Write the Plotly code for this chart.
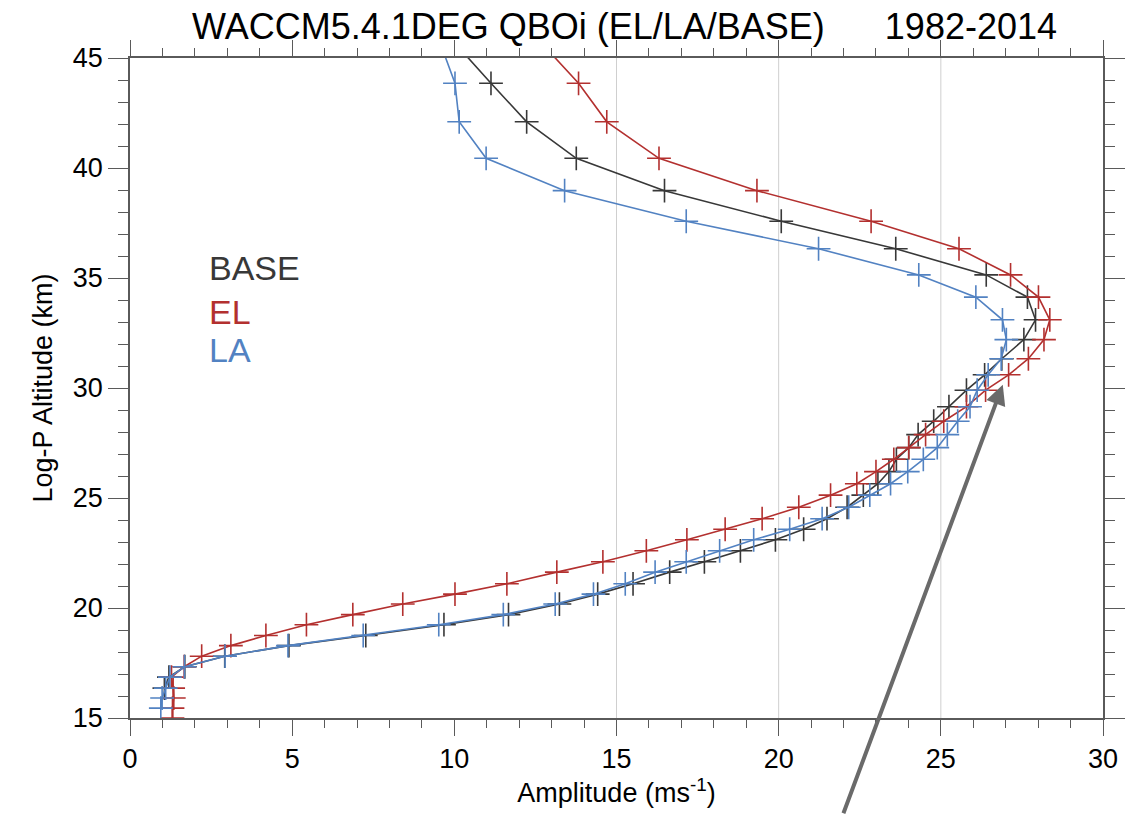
import plotly.graph_objects as go

# Log-P altitude levels (km)
levels = [45.74, 43.85, 42.10, 40.44, 38.97, 37.58, 36.33, 35.14, 34.13, 33.10,
          32.20, 31.33, 30.60, 29.90, 29.15, 28.49, 27.88, 27.29, 26.76, 26.20,
          25.65, 25.13, 24.58, 24.06, 23.58, 23.10, 22.60, 22.10, 21.63, 21.10,
          20.63, 20.18, 19.70, 19.24, 18.75, 18.29, 17.81, 17.33, 16.86, 16.36,
          15.91, 15.45, 15.00]

base_amp = [9.98, 11.13, 12.23, 13.76, 16.48, 20.08, 23.61, 26.40, 27.67, 27.92,
            27.56, 26.88, 26.35, 25.79, 25.25, 24.78, 24.30, 24.01, 23.63, 23.40,
            23.06, 22.61, 22.11, 21.49, 20.77, 19.90, 18.82, 17.71, 16.64, 15.51,
            14.42, 13.24, 11.67, 9.68, 7.27, 4.90, 2.92, 1.69, 1.20, 1.06]

el_amp = [12.65, 13.83, 14.70, 16.31, 19.33, 22.85, 25.56, 27.15, 28.01, 28.36,
          28.18, 27.70, 27.09, 26.38, 25.79, 25.09, 24.53, 24.01, 23.55, 23.00,
          22.41, 21.60, 20.62, 19.49, 18.35, 17.17, 15.92, 14.58, 13.16, 11.62,
          10.02, 8.41, 6.87, 5.44, 4.19, 3.11, 2.21, 1.67, 1.28, 1.33,
          1.35, 1.31, 1.31]

la_amp = [9.55, 10.02, 10.15, 10.98, 13.40, 17.15, 21.23, 24.32, 26.08, 26.90,
          27.02, 26.86, 26.46, 26.12, 25.90, 25.52, 25.20, 24.89, 24.46, 23.98,
          23.45, 22.81, 22.16, 21.34, 20.34, 19.23, 18.18, 17.15, 16.19, 15.27,
          14.29, 13.11, 11.51, 9.52, 7.19, 4.87, 2.93, 1.68, 1.23, 1.10,
          0.99, 0.95]

series_names = ["BASE", "EL", "LA"]
series_colors = ["#383838", "#b3302f", "#5282c2"]
grid_x = [15, 20, 25]

arrow_head = (26.91, 30.15)
arrow_tail = (21.98, 10.6)

legend_x = 2.37
legend_y = [35.47, 33.47, 31.74]

title_main = "WACCM5.4.1DEG QBOi (EL/LA/BASE)"
title_years = "1982-2014"

FONT = "Liberation Sans, Arial, Helvetica, sans-serif"

fig = go.Figure()

data = [base_amp, el_amp, la_amp]
for name, amp, col in zip(series_names, data, series_colors):
    fig.add_trace(go.Scatter(
        x=amp, y=levels[:len(amp)], mode="lines+markers", name=name,
        line=dict(color=col, width=1.6),
        marker=dict(symbol="cross-thin-open", size=17,
                    line=dict(color=col, width=1.6), color=col),
        showlegend=False,
    ))

for gx in grid_x:
    fig.add_shape(type="line", xref="x", yref="paper", x0=gx, x1=gx, y0=0, y1=1,
                  line=dict(color="#cfcfcf", width=1), layer="below")

for name, ly, col in zip(series_names, legend_y, series_colors):
    fig.add_annotation(x=legend_x, y=ly, xref="x", yref="y", text=name,
                       showarrow=False, xanchor="left", yanchor="middle",
                       font=dict(family=FONT, size=34, color=col))

fig.add_annotation(x=arrow_head[0], y=arrow_head[1], xref="x", yref="y",
                   ax=arrow_tail[0], ay=arrow_tail[1], axref="x", ayref="y",
                   text="", showarrow=True, arrowhead=2, arrowsize=1.0,
                   arrowwidth=4, arrowcolor="#6a6a6a")

fig.add_annotation(x=0.0617, y=1.047, xref="paper", yref="paper",
                   text=title_main + "\u00a0" * 6 + title_years,
                   showarrow=False, xanchor="left", yanchor="middle",
                   font=dict(family=FONT, size=36, color="black"))

axis_common = dict(
    showline=True, linecolor="#5a5a5a", linewidth=1.5, mirror="ticks",
    ticks="outside", tickcolor="#5a5a5a", tickwidth=1.3,
    showgrid=False, zeroline=False,
    tickfont=dict(family=FONT, size=27, color="black"),
)

fig.update_xaxes(range=[0, 30], tick0=0, dtick=5, ticklen=16,
                 minor=dict(dtick=1, ticklen=8, ticks="outside", tickcolor="#5a5a5a", tickwidth=1.3),
                 title=dict(text="Amplitude (ms<sup>-1</sup>)", standoff=4,
                            font=dict(family=FONT, size=27, color="black")),
                 **axis_common)
fig.update_yaxes(range=[15, 45], tick0=15, dtick=5, ticklen=20,
                 minor=dict(dtick=1, ticklen=10, ticks="outside", tickcolor="#5a5a5a", tickwidth=1.3),
                 title=dict(text="Log-P Altitude (km)", standoff=12,
                            font=dict(family=FONT, size=27, color="black")),
                 **axis_common)

fig.update_layout(
    width=1138, height=815,
    margin=dict(l=130, r=35, t=58, b=97),
    paper_bgcolor="white", plot_bgcolor="white",
    font=dict(family=FONT),
)

fig.write_html("out.html")
